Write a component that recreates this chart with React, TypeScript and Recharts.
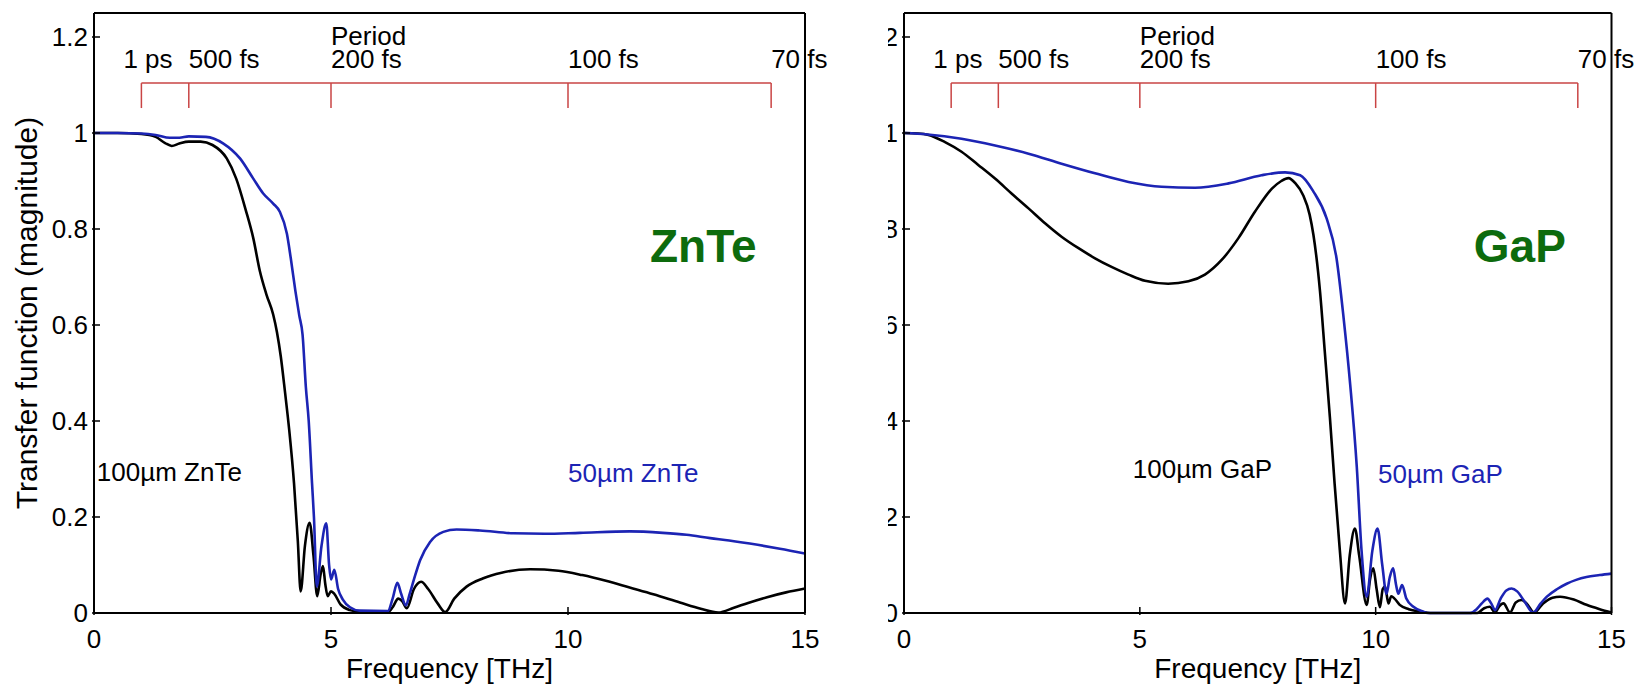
import React from 'react';
import { LineChart, Line, XAxis, YAxis, ReferenceLine, ReferenceDot, Label } from 'recharts';

const FONT = '"Liberation Sans", Arial, Helvetica, sans-serif';
const BLUE = '#1c24b4';
const RED = '#c94444';
const GREEN = '#0d6b0d';

// axis ticks
const xTicks = [0, 5, 10, 15];
const xTickLabels = ['0', '5', '10', '15'];
const yTicks = [0, 0.2, 0.4, 0.6, 0.8, 1, 1.2];
const yTickLabels = ['0', '0.2', '0.4', '0.6', '0.8', '1', '1.2'];

// period scale (THz positions of 1 ps, 500 fs, 200 fs, 100 fs, 70 fs)
const periodFreqs = [1, 2, 5, 10, 1000 / 70];
const periodLabels = ['1 ps', '500 fs', '200 fs', '100 fs', '70 fs'];
const periodLabelFreqs = [0.62, 2, 5, 10, 1000 / 70];
const periodTitle = 'Period';

// ZnTe 100 um (black)
const znte100: [number, number][] = [
  [0, 1.0], [0.5, 1.0], [1.0, 0.998], [1.3, 0.992], [1.5, 0.979], [1.64, 0.973], [1.8, 0.978],
  [2.0, 0.982], [2.25, 0.982], [2.5, 0.975], [2.8, 0.947], [3.0, 0.905], [3.2, 0.84],
  [3.36, 0.781], [3.5, 0.712], [3.64, 0.663], [3.78, 0.622], [3.86, 0.585], [3.94, 0.535],
  [4.03, 0.46], [4.12, 0.38], [4.22, 0.27], [4.3, 0.15], [4.36, 0.045], [4.45, 0.14],
  [4.55, 0.188], [4.63, 0.12], [4.71, 0.035], [4.78, 0.08], [4.83, 0.098], [4.88, 0.06],
  [4.93, 0.035], [5.0, 0.045], [5.07, 0.04], [5.2, 0.018], [5.4, 0.006], [5.7, 0.001],
  [6.2, 0.002], [6.3, 0.012], [6.42, 0.03], [6.5, 0.025], [6.6, 0.01], [6.75, 0.05],
  [6.9, 0.065], [7.05, 0.05], [7.25, 0.02], [7.41, 0.002], [7.6, 0.03], [7.86, 0.055],
  [8.2, 0.072], [8.6, 0.084], [9.2, 0.091], [9.8, 0.088], [10.3, 0.079], [10.8, 0.067],
  [11.3, 0.053], [11.8, 0.039], [12.36, 0.022], [12.8, 0.009], [13.17, 0.001], [13.5, 0.011],
  [13.8, 0.021], [14.2, 0.033], [14.6, 0.043], [15, 0.051],
];

// ZnTe 50 um (blue)
const znte50: [number, number][] = [
  [0, 1.0], [0.5, 1.0], [1.0, 0.999], [1.3, 0.996], [1.6, 0.99], [1.8, 0.99], [2.0, 0.993],
  [2.36, 0.992], [2.73, 0.978], [3.08, 0.947], [3.36, 0.905], [3.57, 0.874], [3.78, 0.853],
  [3.92, 0.836], [4.07, 0.79], [4.15, 0.74], [4.25, 0.67], [4.33, 0.62], [4.4, 0.58],
  [4.47, 0.47], [4.53, 0.4], [4.6, 0.27], [4.64, 0.2], [4.7, 0.055], [4.8, 0.14], [4.9, 0.187],
  [4.96, 0.1], [5.0, 0.07], [5.07, 0.09], [5.15, 0.05], [5.25, 0.028], [5.4, 0.012],
  [5.6, 0.005], [6.2, 0.004], [6.3, 0.03], [6.4, 0.063], [6.48, 0.04], [6.58, 0.016],
  [6.66, 0.04], [6.75, 0.07], [6.88, 0.11], [7.09, 0.148], [7.37, 0.169], [7.65, 0.174],
  [8.14, 0.172], [8.85, 0.166], [9.5, 0.165], [10.25, 0.167], [11.3, 0.17], [12.0, 0.167],
  [12.5, 0.163], [13.0, 0.156], [13.4, 0.151], [14.0, 0.142], [14.47, 0.134], [15, 0.124],
];

// GaP 100 um (black)
const gap100: [number, number][] = [
  [0, 1.0], [0.3, 0.999], [0.52, 0.996], [0.87, 0.981], [1.22, 0.961], [1.58, 0.933],
  [1.93, 0.905], [2.28, 0.874], [2.64, 0.843], [2.99, 0.812], [3.34, 0.784], [3.7, 0.76],
  [4.05, 0.739], [4.4, 0.721], [4.76, 0.705], [5.11, 0.692], [5.6, 0.686], [6.03, 0.691],
  [6.38, 0.705], [6.74, 0.736], [7.09, 0.781], [7.44, 0.836], [7.8, 0.884], [8.0, 0.9],
  [8.15, 0.906], [8.3, 0.895], [8.46, 0.871], [8.6, 0.83], [8.68, 0.788], [8.82, 0.67],
  [8.92, 0.546], [9.03, 0.407], [9.13, 0.269], [9.24, 0.131], [9.35, 0.02], [9.45, 0.12],
  [9.56, 0.176], [9.65, 0.12], [9.81, 0.017], [9.88, 0.07], [9.95, 0.093], [10.02, 0.05],
  [10.09, 0.012], [10.15, 0.05], [10.2, 0.055], [10.27, 0.02], [10.33, 0.035], [10.4, 0.03],
  [10.51, 0.017], [10.7, 0.008], [10.94, 0.003], [11.2, 0.0], [12.0, 0.0], [12.15, 0.0],
  [12.3, 0.01], [12.42, 0.013], [12.53, 0.001], [12.62, 0.014], [12.71, 0.02], [12.85, 0.001],
  [12.97, 0.022], [13.09, 0.027], [13.2, 0.02], [13.36, 0.001], [13.55, 0.02], [13.75, 0.032],
  [13.91, 0.034], [14.2, 0.028], [14.47, 0.017], [14.75, 0.008], [15, 0.001],
];

// GaP 50 um (blue)
const gap50: [number, number][] = [
  [0, 1.0], [0.5, 0.997], [1.22, 0.988], [1.93, 0.974], [2.64, 0.957], [3.34, 0.936],
  [4.05, 0.916], [4.76, 0.898], [5.46, 0.888], [6.17, 0.886], [6.88, 0.895], [7.58, 0.912],
  [8.08, 0.918], [8.4, 0.912], [8.68, 0.878], [8.96, 0.822], [9.17, 0.739], [9.32, 0.615],
  [9.46, 0.476], [9.6, 0.304], [9.7, 0.131], [9.81, 0.034], [9.93, 0.13], [10.04, 0.176],
  [10.14, 0.1], [10.23, 0.04], [10.3, 0.075], [10.37, 0.093], [10.43, 0.06], [10.48, 0.04],
  [10.56, 0.058], [10.65, 0.03], [10.8, 0.013], [11.0, 0.003], [11.1, 0], [12.0, 0],
  [12.14, 0.008], [12.25, 0.02], [12.37, 0.03], [12.45, 0.02], [12.53, 0.006], [12.65, 0.03],
  [12.77, 0.047], [12.88, 0.051], [13.0, 0.045], [13.15, 0.025], [13.34, 0.001], [13.5, 0.02],
  [13.63, 0.034], [13.85, 0.05], [14.05, 0.061], [14.25, 0.069], [14.47, 0.075], [14.75, 0.079],
  [15, 0.082],
];

const toPts = (arr: [number, number][]) => arr.map(([f, v]) => ({ f, v }));

// bracket levels (in y-data units)
const BRACKET_LINE = 1.104;
const BRACKET_TICK = 1.052;
const BRACKET_LABEL = 1.135;
const BRACKET_TITLE = 1.183;

const TICK_FS = 26;

const XTick = (props: any) => {
  const { x, y, index } = props;
  return (
    <g>
      <line x1={x} x2={x} y1={y} y2={y - 8} stroke="#000" strokeWidth={1.5} />
      <text x={x} y={y + 33} textAnchor="middle" fontSize={TICK_FS} fontFamily={FONT} fill="#000">
        {xTickLabels[index]}
      </text>
    </g>
  );
};
const TopTick = (props: any) => {
  const { x, y } = props;
  return <line x1={x} x2={x} y1={y} y2={y + 8} stroke="#000" strokeWidth={1.5} />;
};
const YTick = (props: any) => {
  const { x, y, index } = props;
  return (
    <g>
      <line x1={x} x2={x + 8} y1={y} y2={y} stroke="#000" strokeWidth={1.5} />
      <text x={x - 4} y={y} textAnchor="end" dominantBaseline="central" fontSize={TICK_FS} fontFamily={FONT} fill="#000">
        {yTickLabels[index]}
      </text>
    </g>
  );
};
const RightTick = (props: any) => {
  const { x, y } = props;
  return <line x1={x} x2={x - 8} y1={y} y2={y} stroke="#000" strokeWidth={1.5} />;
};

const textShape = (label: string, opts: any) => (p: any) => (
  <text
    x={p.cx}
    y={p.cy}
    textAnchor="start"
    fontFamily={FONT}
    fontSize={opts.fontSize}
    fontWeight={opts.bold ? 'bold' : 'normal'}
    fill={opts.color}
  >
    {label}
  </text>
);

type PanelProps = {
  width: number;
  margin: { top: number; right: number; bottom: number; left: number };
  black: [number, number][];
  blue: [number, number][];
  title: string;
  titlePos: [number, number];
  blackLabel: string;
  blackPos: [number, number];
  blueLabel: string;
  bluePos: [number, number];
};

const Panel = (p: PanelProps) => {
  const axisLine = { stroke: '#000', strokeWidth: 2 };
  return (
    <LineChart width={p.width} height={688} margin={p.margin}>
      <XAxis
        xAxisId={0}
        dataKey="f"
        type="number"
        domain={[0, 15]}
        ticks={xTicks}
        interval={0}
        height={40}
        tickSize={0}
        tickLine={false}
        axisLine={axisLine}
        tick={(tp: any) => <XTick {...tp} />}
      >
        <Label
          content={(lp: any) => {
            const vb = lp.viewBox || { x: 94, y: 613, width: 711, height: 40 };
            return (
              <text x={vb.x + vb.width / 2} y={vb.y + 65} textAnchor="middle" fontSize={28} fontFamily={FONT} fill="#000">
                Frequency [THz]
              </text>
            );
          }}
        />
      </XAxis>
      <XAxis
        xAxisId="top"
        orientation="top"
        type="number"
        domain={[0, 15]}
        ticks={xTicks}
        interval={0}
        height={5}
        tickSize={0}
        tickLine={false}
        axisLine={axisLine}
        tick={(tp: any) => <TopTick {...tp} />}
      />
      <YAxis
        yAxisId={0}
        type="number"
        domain={[0, 1.25]}
        ticks={yTicks}
        interval={0}
        width={60}
        tickSize={0}
        tickLine={false}
        axisLine={axisLine}
        tick={(tp: any) => <YTick {...tp} />}
      >
        <Label
          content={(lp: any) => {
            const vb = lp.viewBox || { x: 34, y: 13, width: 60, height: 600 };
            return (
              <text
                transform={`translate(${vb.x + 3}, ${vb.y + vb.height / 2}) rotate(-90)`}
                textAnchor="middle"
                fontSize={30}
                fontFamily={FONT}
                fill="#000"
              >
                Transfer function (magnitude)
              </text>
            );
          }}
        />
      </YAxis>
      <YAxis
        yAxisId="r"
        orientation="right"
        type="number"
        domain={[0, 1.25]}
        ticks={yTicks}
        interval={0}
        width={10}
        tickSize={0}
        tickLine={false}
        axisLine={axisLine}
        tick={(tp: any) => <RightTick {...tp} />}
      />

      {/* period bracket */}
      <ReferenceLine
        segment={[
          { x: periodFreqs[0], y: BRACKET_LINE },
          { x: periodFreqs[periodFreqs.length - 1], y: BRACKET_LINE },
        ]}
        stroke={RED}
        strokeWidth={1.5}
      />
      {periodFreqs.map((f, i) => (
        <ReferenceLine
          key={'pt' + i}
          segment={[
            { x: f, y: BRACKET_LINE },
            { x: f, y: BRACKET_TICK },
          ]}
          stroke={RED}
          strokeWidth={1.5}
        />
      ))}
      {periodLabels.map((lab, i) => (
        <ReferenceDot
          key={'pl' + i}
          x={periodLabelFreqs[i]}
          y={BRACKET_LABEL}
          r={0}
          shape={textShape(lab, { fontSize: TICK_FS, color: '#000' })}
        />
      ))}
      <ReferenceDot x={5} y={BRACKET_TITLE} r={0} shape={textShape(periodTitle, { fontSize: TICK_FS, color: '#000' })} />

      <Line data={toPts(p.black)} dataKey="v" type="monotone" stroke="#000" strokeWidth={2.6} dot={false} isAnimationActive={false} />
      <Line data={toPts(p.blue)} dataKey="v" type="monotone" stroke={BLUE} strokeWidth={2.6} dot={false} isAnimationActive={false} />

      <ReferenceDot x={p.titlePos[0]} y={p.titlePos[1]} r={0} shape={textShape(p.title, { fontSize: 46, bold: true, color: GREEN })} />
      <ReferenceDot x={p.blackPos[0]} y={p.blackPos[1]} r={0} shape={textShape(p.blackLabel, { fontSize: TICK_FS, color: '#000' })} />
      <ReferenceDot x={p.bluePos[0]} y={p.bluePos[1]} r={0} shape={textShape(p.blueLabel, { fontSize: TICK_FS, color: BLUE })} />
    </LineChart>
  );
};

export default function App() {
  return (
    <div style={{ position: 'absolute', left: 0, top: 0, width: 1644, height: 688, background: '#fff', overflow: 'hidden' }}>
      <div style={{ position: 'absolute', left: 0, top: 0 }}>
        <Panel
          width={830}
          margin={{ top: 8, right: 15, bottom: 35, left: 34 }}
          black={znte100}
          blue={znte50}
          title="ZnTe"
          titlePos={[11.73, 0.732]}
          blackLabel="100µm ZnTe"
          blackPos={[0.06, 0.276]}
          blueLabel="50µm ZnTe"
          bluePos={[10.0, 0.272]}
        />
      </div>
      <div style={{ position: 'absolute', left: 888, top: 0, width: 756, height: 688, overflow: 'hidden' }}>
        <div style={{ position: 'absolute', left: -68, top: 0 }}>
          <Panel
            width={824}
            margin={{ top: 8, right: 22.5, bottom: 35, left: 24 }}
            black={gap100}
            blue={gap50}
            title="GaP"
            titlePos={[12.08, 0.732]}
            blackLabel="100µm GaP"
            blackPos={[4.85, 0.282]}
            blueLabel="50µm GaP"
            bluePos={[10.05, 0.27]}
          />
        </div>
      </div>
    </div>
  );
}
